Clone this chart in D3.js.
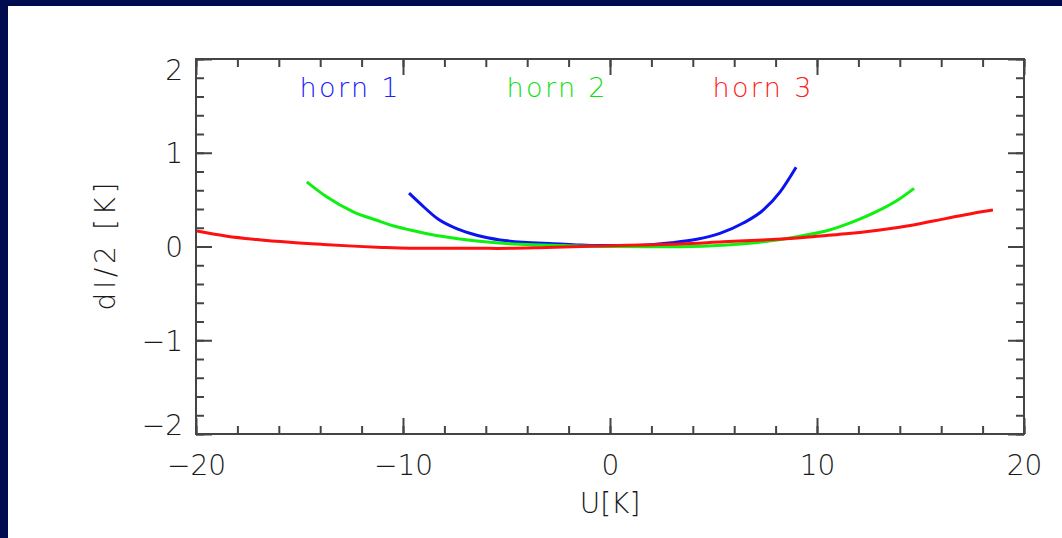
<!doctype html>
<html lang="en">
<head>
<meta charset="utf-8">
<script src="https://d3js.org/d3.v7.min.js"></script>
<title>horn dI/2 vs U</title>
<style>
  html, body { margin: 0; padding: 0; }
  body { width: 1062px; height: 538px; background: #000c50; overflow: hidden; }
  svg { position: absolute; left: 8px; top: 6px; background: #fff; }
  text { font-family: "DejaVu Sans", sans-serif; font-weight: 200; fill: #1a1a1a; }
</style>
</head>
<body>
<div id="chart"></div>
<script>
// tick labels
const xTicks = [-20, -10, 0, 10, 20];
const yTicks = [-2, -1, 0, 1, 2];

// series: U[K] and dI/2 [K]
const horn1U = [-9.71, -9.18, -8.29, -7.41, -6.44, -5.31, -4.19, -2.74, -1.77, -0.5, 0.8, 2.0, 2.98, 4.19, 5.31, 6.44, 7.41, 8.21, 8.99];
const horn1V = [0.57, 0.46, 0.29, 0.19, 0.12, 0.07, 0.045, 0.03, 0.02, 0.01, 0.01, 0.02, 0.04, 0.077, 0.14, 0.25, 0.39, 0.58, 0.845];

const horn2U = [-14.65, -13.69, -12.4, -11.27, -10.3, -9.66, -8.7, -7.25, -5.8, -4.35, -2.25, 0, 1.77, 3.38, 5.64, 7.41, 9.18, 10.6, 11.76, 13.04, 14.0, 14.69];
const horn2V = [0.69, 0.53, 0.37, 0.28, 0.21, 0.176, 0.13, 0.08, 0.045, 0.023, 0.01, 0.0, -0.002, -0.002, 0.015, 0.05, 0.11, 0.176, 0.265, 0.39, 0.51, 0.62];

const horn3U = [-19.95, -18.5, -17.07, -15.46, -13.85, -12.4, -11.0, -9.66, -5.47, -3.06, -0.48, 1.45, 3.38, 5.47, 7.4, 9.34, 10.55, 11.4, 13.04, 14.65, 16.26, 17.55, 18.5];
const horn3V = [0.165, 0.11, 0.075, 0.045, 0.022, 0.004, -0.01, -0.018, -0.02, -0.01, 0.005, 0.016, 0.027, 0.05, 0.07, 0.095, 0.12, 0.135, 0.176, 0.23, 0.30, 0.355, 0.39];

const seriesNames = ["horn 1", "horn 2", "horn 3"];

const W = 1054, H = 532;
const padL = 188, padR = 1016, padT = 53, padB = 428;

const svg = d3.select("#chart").append("svg")
  .attr("width", W)
  .attr("height", H);

const x = d3.scaleLinear().domain([-20, 20]).range([padL, padR]);
const y = d3.scaleLinear().domain([-2, 2]).range([padB, padT]);

const axisColor = "#444";

function styleAxis(g) {
  g.select(".domain").remove();
  g.selectAll(".tick line").attr("stroke", axisColor).attr("stroke-width", 2);
}

// minor ticks
const xMinor = x.ticks(20);
const yMinor = y.ticks(16);

svg.append("g").attr("transform", "translate(0," + padB + ")")
  .call(d3.axisBottom(x).tickValues(xMinor).tickSize(-8).tickFormat(""))
  .call(styleAxis);
svg.append("g").attr("transform", "translate(0," + padT + ")")
  .call(d3.axisTop(x).tickValues(xMinor).tickSize(-8).tickFormat(""))
  .call(styleAxis);
svg.append("g").attr("transform", "translate(" + padL + ",0)")
  .call(d3.axisLeft(y).tickValues(yMinor).tickSize(-8).tickFormat(""))
  .call(styleAxis);
svg.append("g").attr("transform", "translate(" + padR + ",0)")
  .call(d3.axisRight(y).tickValues(yMinor).tickSize(-8).tickFormat(""))
  .call(styleAxis);

// major ticks
const fmt = d => (d < 0 ? "\u2212" : "") + Math.abs(d);

const xAxis = svg.append("g").attr("transform", "translate(0," + padB + ")")
  .call(d3.axisBottom(x).tickValues(xTicks).tickSize(-16).tickPadding(0).tickFormat(fmt))
  .call(styleAxis);
xAxis.selectAll("text")
  .attr("y", 41).attr("dy", 0)
  .style("font-size", "28px").style("fill", "#1a1a1a").style("font-family", "DejaVu Sans").style("font-weight", 200);

svg.append("g").attr("transform", "translate(0," + padT + ")")
  .call(d3.axisTop(x).tickValues(xTicks).tickSize(-16).tickFormat(""))
  .call(styleAxis);

const yAxis = svg.append("g").attr("transform", "translate(" + padL + ",0)")
  .call(d3.axisLeft(y).tickValues(yTicks).tickSize(-16).tickPadding(0).tickFormat(fmt))
  .call(styleAxis);
yAxis.selectAll("text")
  .attr("x", -13)
  .attr("dy", d => d === 2 ? "0.72em" : d === -2 ? "0.0em" : "0.35em")
  .style("font-size", "28px").style("fill", "#1a1a1a").style("font-family", "DejaVu Sans").style("font-weight", 200);

svg.append("g").attr("transform", "translate(" + padR + ",0)")
  .call(d3.axisRight(y).tickValues(yTicks).tickSize(-16).tickFormat(""))
  .call(styleAxis);

// frame
svg.append("rect")
  .attr("x", padL).attr("y", padT)
  .attr("width", padR - padL).attr("height", padB - padT)
  .attr("fill", "none").attr("stroke", axisColor).attr("stroke-width", 2);

// curves
const lineColors = ["#0a14f0", "#10f010", "#ff1010"];
const labelColors = ["#2020ff", "#10e010", "#ff2020"];
const series = [
  horn1U.map((u, i) => [u, horn1V[i]]),
  horn2U.map((u, i) => [u, horn2V[i]]),
  horn3U.map((u, i) => [u, horn3V[i]])
];

const line = d3.line().x(d => x(d[0])).y(d => y(d[1])).curve(d3.curveMonotoneX);

series.forEach((s, i) => {
  svg.append("path")
    .datum(s)
    .attr("d", line)
    .attr("fill", "none")
    .attr("stroke", lineColors[i])
    .attr("stroke-width", 3);
});

// labels
const labelX = [-15.0, -5.0, 4.95];
seriesNames.forEach((n, i) => {
  svg.append("text")
    .attr("x", x(labelX[i]))
    .attr("y", 91)
    .attr("textLength", 99)
    .attr("lengthAdjust", "spacing")
    .style("font-size", "27px")
    .style("fill", labelColors[i])
    .text(n);
});

// axis titles
svg.append("text")
  .attr("x", x(0))
  .attr("y", 507)
  .attr("text-anchor", "middle")
  .style("font-size", "28px")
  .text("U[K]");

svg.append("text")
  .attr("transform", "translate(107," + y(0) + ") rotate(-90)")
  .attr("text-anchor", "middle")
  .style("font-size", "28px")
  .attr("textLength", 128)
  .attr("lengthAdjust", "spacing")
  .text("dI/2 [K]");
</script>
</body>
</html>
